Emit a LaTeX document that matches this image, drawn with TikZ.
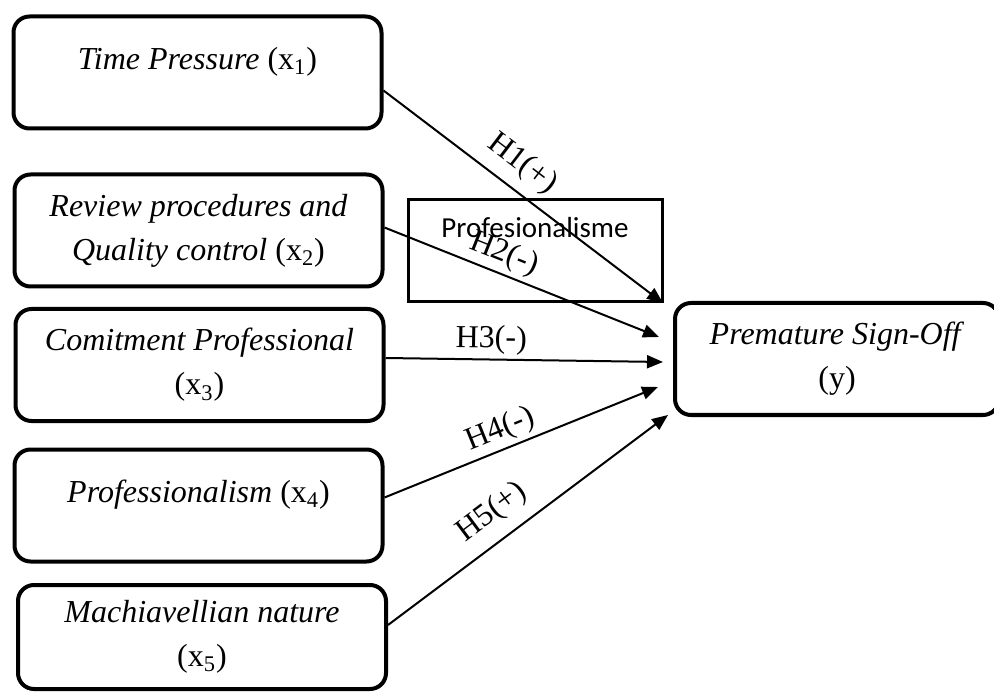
\documentclass[tikz,border=0pt]{standalone}
\usepackage{fontspec}
\setmainfont{Liberation Serif}
\newfontfamily\calibri{Carlito}
\usetikzlibrary{arrows.meta}

\begin{document}
\begin{tikzpicture}[
    x=0.5pt, y=-0.5pt,
    varbox/.style={draw, line width=2pt, rounded corners=8pt, minimum width=184pt, minimum height=56pt, align=center, font=\fontsize{16}{22}\selectfont},
    onerow/.style={text depth=14pt},
    hyp/.style={line width=1pt, -{Triangle[length=8pt, width=6.5pt]}},
    hlabel/.style={font=\fontsize{16}{18}\selectfont, sloped, above, inner sep=2pt}
  ]
  \clip (0,0) rectangle (994,694);

  % independent variables
  \node[varbox, onerow] (tp) at (197.5,72.5) {\textit{Time Pressure} (x\textsubscript{1})};
  \node[varbox] (rqc) at (198.5,230.5) {\textit{Review procedures and}\\\textit{Quality control} (x\textsubscript{2})};
  \node[varbox] (cp) at (199.5,365) {\textit{Comitment Professional}\\(x\textsubscript{3})};
  \node[varbox, onerow] (prof) at (198.5,505.5) {\textit{Professionalism} (x\textsubscript{4})};
  \node[varbox, minimum height=52pt] (mach) at (202,637) {\textit{Machiavellian nature}\\(x\textsubscript{5})};

  % dependent variable
  \node[varbox, minimum width=162pt] (psof) at (837,359) {\textit{Premature Sign-Off}\\(y)};

  % moderator
  \node[draw, line width=1.5pt, minimum width=127pt, minimum height=51pt, text depth=24pt, font=\calibri\fontsize{14.5}{17}\selectfont] (mod) at (535,251) {Profesionalisme};

  \draw[hyp] ([yshift=-9pt]tp.east) -- node[hlabel, pos=0.44, inner sep=5pt] {H1(+)} ([xshift=-5pt, yshift=28pt]psof.west);
  \draw[hyp] ([yshift=1.5pt]rqc.east) -- node[hlabel, pos=0.41] {H2(-)} ([xshift=-7pt, yshift=11pt]psof.west);
  \draw[hyp] ([yshift=3.5pt]cp.east) -- node[hlabel, pos=0.38] {H3(-)} ([xshift=-5pt, yshift=-1.5pt]psof.west);
  \draw[hyp] ([yshift=4pt]prof.east) -- node[hlabel, pos=0.45] {H4(-)} ([xshift=-7.5pt, yshift=-14pt]psof.west);
  \draw[hyp] ([yshift=6pt]mach.east) -- node[hlabel, pos=0.43, inner sep=6pt] {H5(+)} ([xshift=-2.5pt, yshift=-28pt]psof.west);
\end{tikzpicture}
\end{document}
